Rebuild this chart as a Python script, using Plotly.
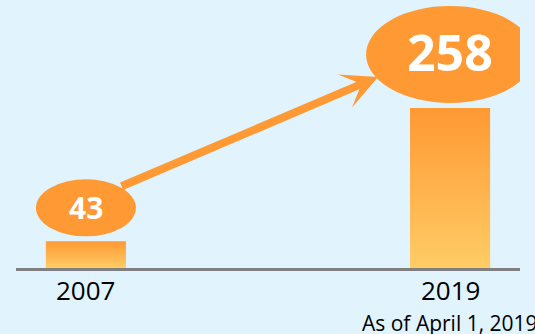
import plotly.graph_objects as go

categories = ["2007", "2019"]
values = [43, 258]
value_labels = ["43", "258"]
note = "As of April 1, 2019"

ORANGE = "#FF9933"
YELLOW = "#FFCC66"
BG = "#E1F3FD"

bar_half = 0.11
fig = go.Figure()
for i, v in enumerate(values):
    fig.add_trace(go.Scatter(
        x=[i - bar_half, i + bar_half, i + bar_half, i - bar_half, i - bar_half],
        y=[0, 0, v, v, 0],
        mode="lines", line=dict(width=0), fill="toself",
        fillgradient=dict(type="vertical", colorscale=[[0, YELLOW], [1, ORANGE]]),
        hoverinfo="skip", showlegend=False,
    ))

# ellipses above bars: (half width px, bottom gap px, top px, font size, text shift)
ell = [(50, 5, 62, 30, 33.5), (84, 5, 102, 50, 56)]
for i, v in enumerate(values):
    hw, y0, y1, fs, ts = ell[i]
    fig.add_shape(type="circle", xref="x", yref="y", xsizemode="pixel", ysizemode="pixel",
                  xanchor=i, yanchor=v, x0=-hw, x1=hw, y0=y0, y1=y1,
                  fillcolor=ORANGE, line=dict(width=0), layer="above")
    fig.add_annotation(x=i, y=v, xref="x", yref="y", text="<b>%s</b>" % value_labels[i],
                       showarrow=False, yshift=ts,
                       font=dict(family="Open Sans", size=fs, color="white"))

# arrow
fig.add_annotation(x=1, y=values[1], xref="x", yref="y", xshift=-72, yshift=31,
                   ax=-258, ay=110, text="", showarrow=True, arrowhead=3,
                   arrowsize=0.75, arrowwidth=8, arrowcolor=ORANGE, standoff=0)

# category labels
for i, c in enumerate(categories):
    fig.add_annotation(x=i, y=0, xref="x", yref="y", text=c, showarrow=False,
                       yshift=-22, font=dict(family="Open Sans", size=26, color="black"))
fig.add_annotation(x=1, y=0, xref="x", yref="y", text=note, showarrow=False,
                   xanchor="left", xshift=-90, yshift=-55,
                   font=dict(family="Open Sans", size=21, color="black"))

fig.update_layout(
    width=535, height=334, margin=dict(l=16, r=15, t=0, b=66),
    paper_bgcolor=BG, plot_bgcolor=BG,
    xaxis=dict(range=[-0.192, 1.192], showgrid=False, zeroline=False, showticklabels=False,
               showline=True, linecolor="#808080", linewidth=3),
    yaxis=dict(range=[0, 432], visible=False),
)
fig.write_html("out.html", config={"displayModeBar": False},
               post_script="document.body.style.margin='0';document.body.style.overflow='hidden';")
